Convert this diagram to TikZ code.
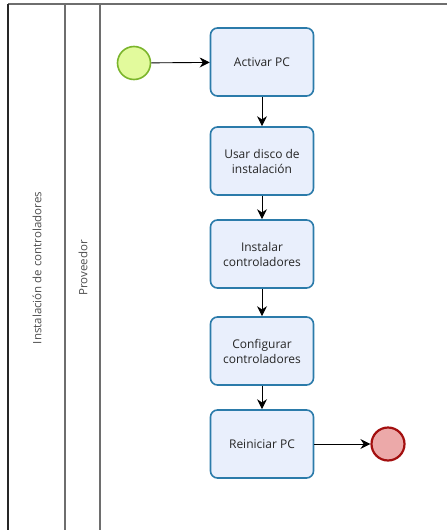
\documentclass[tikz,border=0pt]{standalone}
\usepackage{fontspec}
\setmainfont{Open Sans}
\usepackage{tikz}
\usetikzlibrary{positioning, arrows.meta}

\definecolor{taskfill}{HTML}{E9EFFC}
\definecolor{taskline}{HTML}{2B7BAA}
\definecolor{startfill}{HTML}{E2FA9C}
\definecolor{startline}{HTML}{7BB52C}
\definecolor{endfill}{HTML}{ECA9A9}
\definecolor{endline}{HTML}{A30F0F}
\definecolor{laneline}{HTML}{6E6E6E}

\begin{document}
\begin{tikzpicture}[
    x=1pt, y=-1pt,
    flow/.style={-{Stealth[length=10pt, width=10pt]}, line width=0.9pt, black},
    task/.style={draw=taskline, fill=taskfill, line width=1.6pt, rounded corners=7pt,
        minimum width=103pt, minimum height=68pt, align=center,
        font=\fontsize{12}{15}\selectfont, text=black!85},
    startev/.style={circle, draw=startline, fill=startfill, line width=1.6pt, minimum size=33pt},
    endev/.style={circle, draw=endline, fill=endfill, line width=2.2pt, minimum size=33pt},
    lanelabel/.style={rotate=90, font=\fontsize{11.5}{12}\selectfont, text=black!70}
]
    \useasboundingbox (0, 0) rectangle (447, 530);

    % Pool and lane
    \draw[laneline, line width=1.2pt] (8, 4) -- (447, 4);
    \draw[black!85, line width=1.5pt] (8, 4) -- (8, 530);
    \draw[laneline, line width=1.2pt] (65, 4) -- (65, 530);
    \draw[laneline, line width=1.2pt] (100, 4) -- (100, 530);
    \node[lanelabel] (pool) at (37, 268) {Instalación de controladores};
    \node[lanelabel] (lane) at (83, 268) {Proveedor};

    % Events
    \node[startev] (start) at (134, 63) {};
    \node[endev] (finish) at (388, 444) {};

    % Tasks
    \node[task] (activar) at (262, 62) {Activar PC};
    \node[task] (disco) at (262, 161) {Usar disco de\\instalación};
    \node[task] (instalar) at (262, 254) {Instalar\\controladores};
    \node[task] (configurar) at (262, 351) {Configurar\\controladores};
    \node[task] (reiniciar) at (262, 444) {Reiniciar PC};

    % Sequence flow
    \draw[flow] (start) -- (activar);
    \draw[flow] (activar) -- (disco);
    \draw[flow] (disco) -- (instalar);
    \draw[flow] (instalar) -- (configurar);
    \draw[flow] (configurar) -- (reiniciar);
    \draw[flow] (reiniciar) -- (finish);

\end{tikzpicture}
\end{document}
